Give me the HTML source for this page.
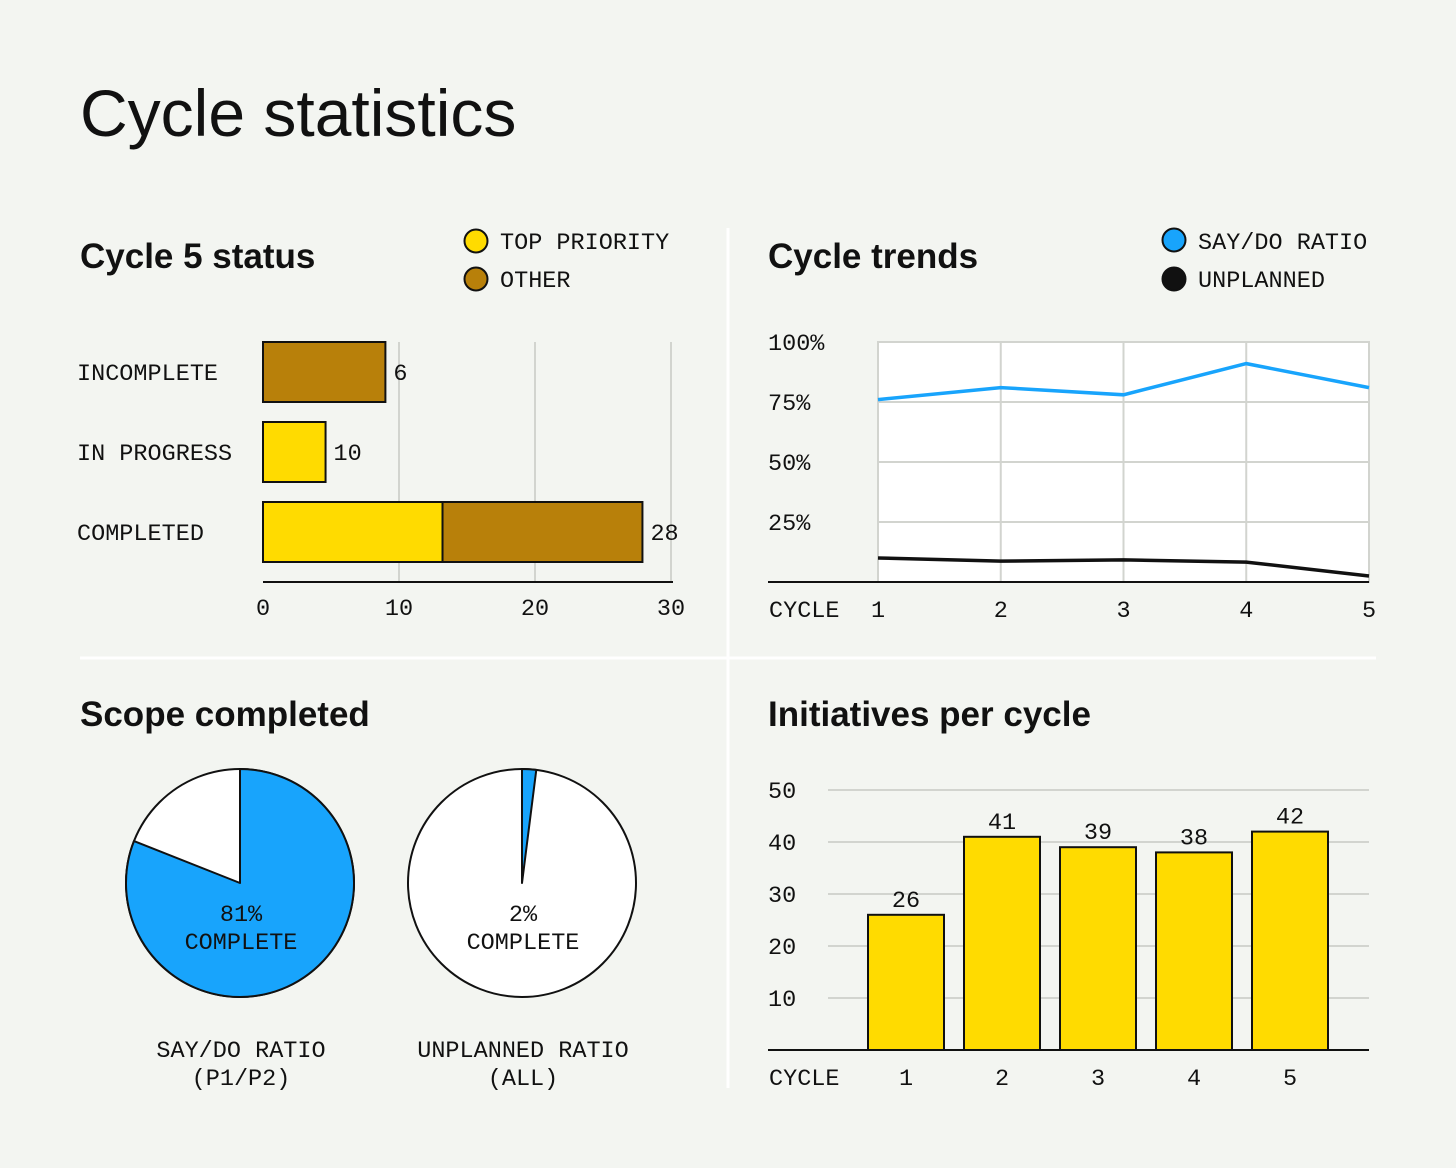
<!DOCTYPE html>
<html><head><meta charset="utf-8">
<style>
html,body{margin:0;padding:0;background:#f3f5f1;}
svg{display:block}
.h{font-family:"Liberation Sans",sans-serif;font-weight:bold;font-size:35px;fill:#111}
.m{font-family:"Liberation Mono",monospace;font-size:23.5px;fill:#111}
</style></head>
<body>
<svg id="c" width="1456" height="1168" viewBox="0 0 1456 1168" xmlns="http://www.w3.org/2000/svg">
<rect width="1456" height="1168" fill="#f3f5f1"/>
<text x="80" y="136" font-family="Liberation Sans, sans-serif" font-size="66" fill="#111">Cycle statistics</text>
<line x1="728" y1="228" x2="728" y2="1088" stroke="#fff" stroke-width="3"/>
<line x1="80" y1="658" x2="1376" y2="658" stroke="#fff" stroke-width="3"/>

<text class="h" x="80" y="268">Cycle 5 status</text>
<g>
<circle cx="476" cy="241" r="11.5" fill="#ffdb00" stroke="#111" stroke-width="2"/>
<text class="m" x="500" y="249">TOP PRIORITY</text>
<circle cx="476" cy="279" r="11.5" fill="#b8800a" stroke="#111" stroke-width="2"/>
<text class="m" x="500" y="287">OTHER</text>
</g>
<g id="status"></g>

<text class="h" x="768" y="268">Cycle trends</text>
<g>
<circle cx="1174" cy="240" r="11.5" fill="#18a4fc" stroke="#111" stroke-width="2"/>
<text class="m" x="1198" y="249">SAY/DO RATIO</text>
<circle cx="1174" cy="279" r="11.5" fill="#111" stroke="#111" stroke-width="2"/>
<text class="m" x="1198" y="287">UNPLANNED</text>
</g>
<g id="trends"></g>

<text class="h" x="80" y="726">Scope completed</text>
<g id="pies"></g>

<text class="h" x="768" y="726">Initiatives per cycle</text>
<g id="init"></g>
</svg>
<script>
const statusCats=["INCOMPLETE","IN PROGRESS","COMPLETED"];
const statusTop=[0,4.6,13.2];
const statusOther=[9,0,14.7];
const statusLabels=["6","10","28"];
const statusTicks=[0,10,20,30];

const trendCycles=["1","2","3","4","5"];
const sayDo=[76,81,78,91,81];
const unplanned=[10,8.7,9.2,8.3,2.5];
const trendTicks=[25,50,75,100];

const pieValues=[81,2];
const pieLabels=["SAY/DO RATIO|(P1/P2)","UNPLANNED RATIO|(ALL)"];

const initCycles=["1","2","3","4","5"];
const initValues=[26,41,39,38,42];
const initTicks=[10,20,30,40,50];

const NS="http://www.w3.org/2000/svg";
function mk(parent,tag,attrs,text){const e=document.createElementNS(NS,tag);for(const k in attrs)e.setAttribute(k,attrs[k]);if(text!==undefined)e.textContent=text;parent.appendChild(e);return e;}

// status chart
(function(){
const g=document.getElementById('status');
const x=v=>263+v*13.6;
const yTop=i=>342+i*80;
statusTicks.forEach(t=>{
 if(t>0){const l=mk(g,'line',{x1:x(t),y1:342,x2:x(t),y2:582,stroke:'#d2d4cf','stroke-width':2});
 
 }
 const tx=mk(g,'text',{class:'m',x:x(t),y:615,'text-anchor':'middle'},String(t));
 
 
});
const ax=mk(g,'line',{x1:263,y1:582,x2:673,y2:582,stroke:'#111','stroke-width':2});


statusCats.forEach((c,i)=>{
 const y=yTop(i);
 const t=mk(g,'text',{class:'m',x:77,y:y+38},c);
 
 
 if(statusTop[i]>0){const r=mk(g,'rect',{x:x(0),y:y,width:x(statusTop[i])-x(0),height:60,fill:'#ffdb00',stroke:'#111','stroke-width':2});
 
 }
 if(statusOther[i]>0){const r=mk(g,'rect',{x:x(statusTop[i]),y:y,width:x(statusTop[i]+statusOther[i])-x(statusTop[i]),height:60,fill:'#b8800a',stroke:'#111','stroke-width':2});
 
 }
 const vl=mk(g,'text',{class:'m',x:x(statusTop[i]+statusOther[i])+8,y:y+38},statusLabels[i]);
 
 
});
})();

// trends chart
(function(){
const g=document.getElementById('trends');
const x=i=>878+i*(1369-878)/(trendCycles.length-1);
const y=v=>582-v*2.4;
const bg=mk(g,'rect',{x:878,y:342,width:491,height:240,fill:'#fff',stroke:'#d2d4cf','stroke-width':2});


trendTicks.forEach(t=>{
 const l=mk(g,'line',{x1:878,y1:y(t),x2:1369,y2:y(t),stroke:'#d2d4cf','stroke-width':2});
 
 
 const tx=mk(g,'text',{class:'m',x:768,y:y(t)+8},t+'%');
 
 
});
trendCycles.forEach((c,i)=>{
 const l=mk(g,'line',{x1:x(i),y1:342,x2:x(i),y2:582,stroke:'#d2d4cf','stroke-width':2});
 
 
 const tx=mk(g,'text',{class:'m',x:x(i),y:617,'text-anchor':'middle'},c);
 
 
});
const ax=mk(g,'line',{x1:768,y1:582,x2:1369,y2:582,stroke:'#111','stroke-width':2});


const cy=mk(g,'text',{class:'m',x:769,y:617},'CYCLE');


const p1=mk(g,'polyline',{points:sayDo.map((v,i)=>x(i)+','+y(v)).join(' '),fill:'none',stroke:'#18a4fc','stroke-width':3.5});


const p2=mk(g,'polyline',{points:unplanned.map((v,i)=>x(i)+','+y(v)).join(' '),fill:'none',stroke:'#111','stroke-width':3.5});


})();

// pies
(function(){
const g=document.getElementById('pies');
const cxs=[240,522],cy=883,r=114;
pieValues.forEach((v,i)=>{
 const cx=cxs[i];
 const c=mk(g,'circle',{cx:cx,cy:cy,r:r,fill:'#fff',stroke:'#111','stroke-width':2});
 
 
 const a=v/100*2*Math.PI;
 const ex=cx+r*Math.sin(a),ey=cy-r*Math.cos(a);
 const d=`M${cx},${cy} L${cx},${cy-r} A${r},${r} 0 ${v>50?1:0} 1 ${ex},${ey} Z`;
 const p=mk(g,'path',{d:d,fill:'#18a4fc',stroke:'#111','stroke-width':2,'stroke-linejoin':'round'});
 
 
 const t1=mk(g,'text',{class:'m',x:cx+1,y:921,'text-anchor':'middle'},v+'%');
 
 
 const t2=mk(g,'text',{class:'m',x:cx+1,y:949,'text-anchor':'middle'},'COMPLETE');
 
 
 const parts=pieLabels[i].split('|');
 parts.forEach((s,j)=>{
  const t=mk(g,'text',{class:'m',x:cx+1,y:1057+j*28,'text-anchor':'middle'},s);
  
  
 });
});
})();

// initiatives
(function(){
const g=document.getElementById('init');
const y=v=>1050-v*5.2;
const xc=i=>906+i*96;
initTicks.forEach(t=>{
 const l=mk(g,'line',{x1:828,y1:y(t),x2:1369,y2:y(t),stroke:'#d2d4cf','stroke-width':2});
 
 
 const tx=mk(g,'text',{class:'m',x:768,y:y(t)+8},String(t));
 
 
});
initValues.forEach((v,i)=>{
 const r=mk(g,'rect',{x:xc(i)-38,y:y(v),width:76,height:1050-y(v),fill:'#ffdb00',stroke:'#111','stroke-width':2});
 
 
 const vl=mk(g,'text',{class:'m',x:xc(i),y:y(v)-8,'text-anchor':'middle'},String(v));
 
 
 const tx=mk(g,'text',{class:'m',x:xc(i),y:1085,'text-anchor':'middle'},initCycles[i]);
 
 
});
const ax=mk(g,'line',{x1:768,y1:1050,x2:1369,y2:1050,stroke:'#111','stroke-width':2});


const cy=mk(g,'text',{class:'m',x:769,y:1085},'CYCLE');


})();
</script>
</body></html>
